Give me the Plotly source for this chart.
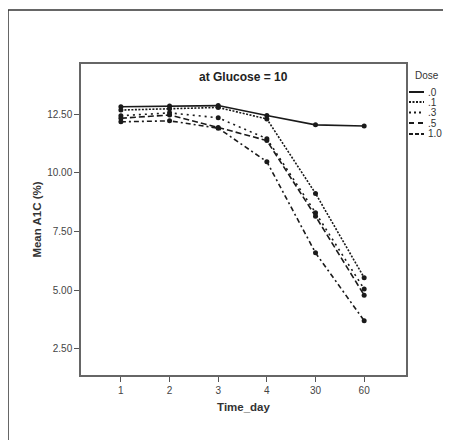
import plotly.graph_objects as go

time_day = ["1", "2", "3", "4", "30", "60"]
dose_labels = [".0", ".1", ".3", ".5", "1.0"]
dose_0 = [12.81, 12.84, 12.86, 12.44, 12.04, 11.99]
dose_1 = [12.67, 12.72, 12.78, 12.29, 9.12, 5.53]
dose_3 = [12.43, 12.55, 12.34, 11.45, 8.30, 5.05]
dose_5 = [12.32, 12.46, 11.93, 11.37, 8.15, 4.79]
dose_10 = [12.17, 12.21, 11.90, 10.47, 6.59, 3.70]
y_ticks = [2.5, 5.0, 7.5, 10.0, 12.5]

series = [dose_0, dose_1, dose_3, dose_5, dose_10]
dashes = ["solid", "2px,1.5px", "2px,4px", "6px,3px", "5px,3px,2px,3px"]
legend_dashes = ["solid", "2px,1.5px", "2px,3px", "5px,4px", "4px,2px"]

OFF = 8  # page body margin
L, R, T, B = 81 - OFF, 406 - OFF, 64 - OFF, 375 - OFF
W, H = 451 - OFF, 440 - OFF

def px(x):
    return (x - OFF - L) / (R - L)

def py(y):
    return (B - (y - OFF)) / (B - T)

fig = go.Figure()
for vals, lab, d in zip(series, dose_labels, dashes):
    fig.add_trace(go.Scatter(
        x=time_day, y=vals, name=lab, mode="lines+markers",
        line=dict(color="#1a1a1a", width=1.6, dash=d),
        marker=dict(color="#1a1a1a", size=5),
        showlegend=False,
    ))

shapes = [
    dict(type="line", xref="paper", yref="paper", x0=px(8), x1=px(470), y0=py(10), y1=py(10),
         line=dict(color="#333333", width=1.5)),
    dict(type="line", xref="paper", yref="paper", x0=px(8), x1=px(8), y0=py(10), y1=py(470),
         line=dict(color="#333333", width=1.5)),
]
annotations = [
    dict(text="<b>at Glucose = 10</b>", xref="paper", yref="paper", x=0.5, y=py(77),
         showarrow=False, font=dict(size=12, color="#222"), xanchor="center", yanchor="middle"),
    dict(text="Dose", xref="paper", yref="paper", x=px(413), y=py(76), showarrow=False,
         font=dict(size=10, color="#333"), xanchor="left", yanchor="middle"),
]
leg_y = [92, 102, 112.5, 123, 134]
for lab, d, yy in zip(dose_labels, legend_dashes, leg_y):
    shapes.append(dict(type="line", xref="paper", yref="paper", x0=px(409), x1=px(424),
                       y0=py(yy), y1=py(yy), line=dict(color="#1a1a1a", width=2, dash=d)))
    annotations.append(dict(text=lab, xref="paper", yref="paper", x=px(426), y=py(yy),
                            showarrow=False, font=dict(size=10, color="#333"),
                            xanchor="left", yanchor="middle"))

fig.update_layout(
    width=W, height=H,
    margin=dict(l=L, r=W - R, t=T, b=H - B, pad=0),
    paper_bgcolor="white", plot_bgcolor="white",
    font=dict(family="Liberation Sans, Arial, sans-serif", color="#333"),
    shapes=shapes, annotations=annotations,
    xaxis=dict(type="category", range=[-0.82, 5.86], showgrid=False, zeroline=False,
               showline=True, mirror=True, linecolor="#666", linewidth=1.5,
               ticks="outside", ticklen=5, tickcolor="#555", tickwidth=1.2,
               tickfont=dict(size=10, color="#444"),
               title=dict(text="<b>Time_day</b>", font=dict(size=11.5, color="#333"), standoff=8)),
    yaxis=dict(range=[1.39, 14.63], tickvals=y_ticks, tickformat=".2f", showgrid=False,
               zeroline=False, showline=True, mirror=True, linecolor="#666", linewidth=1.5,
               ticks="outside", ticklen=5, tickcolor="#555", tickwidth=1.2,
               tickfont=dict(size=10, color="#444"),
               title=dict(text="<b>Mean A1C (%)</b>", font=dict(size=11.5, color="#333"), standoff=3)),
)

fig.write_html("out.html")
